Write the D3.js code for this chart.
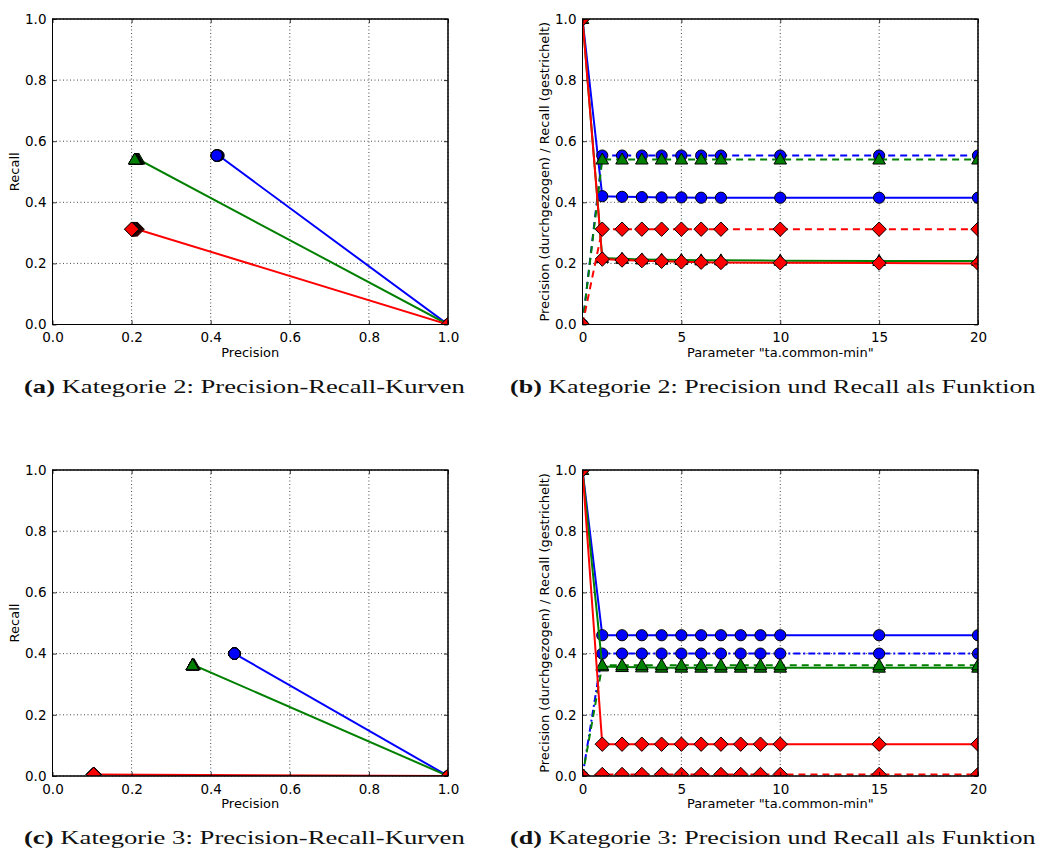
<!DOCTYPE html>
<html><head><meta charset="utf-8">
<script src="https://cdn.jsdelivr.net/npm/d3@7"></script>
<style>body{margin:0;background:#fff}svg{display:block}</style>
</head><body>
<svg id="c" width="1040" height="851"></svg>
<script>
// ---- Data ----
const paramB = [0,1,2,3,4,5,6,7,10,15,20];
const bBluePrec  = [1.0,0.420,0.418,0.417,0.416,0.416,0.415,0.415,0.415,0.415,0.415];
const bBlueRec   = [0.0,0.553,0.553,0.553,0.553,0.553,0.553,0.553,0.553,0.553,0.553];
const bGreenPrec = [1.0,0.218,0.215,0.213,0.212,0.211,0.210,0.210,0.209,0.208,0.208];
const bGreenRec  = [0.0,0.540,0.540,0.540,0.540,0.540,0.540,0.540,0.540,0.540,0.540];
const bRedPrec   = [1.0,0.214,0.211,0.209,0.207,0.205,0.204,0.203,0.202,0.201,0.200];
const bRedRec    = [0.0,0.312,0.312,0.312,0.312,0.312,0.312,0.312,0.312,0.312,0.312];

const paramD = [0,1,2,3,4,5,6,7,8,9,10,15,20];
const dBluePrec  = [1.0,0.460,0.460,0.460,0.460,0.460,0.460,0.460,0.460,0.460,0.460,0.460,0.460];
const dBlueRec   = [0.0,0.400,0.400,0.400,0.400,0.400,0.400,0.400,0.400,0.400,0.400,0.400,0.400];
const dGreenPrec = [1.0,0.358,0.356,0.355,0.354,0.354,0.354,0.354,0.354,0.354,0.354,0.354,0.354];
const dGreenRec  = [0.0,0.362,0.362,0.362,0.362,0.362,0.362,0.362,0.362,0.362,0.362,0.362,0.362];
const dRedPrec   = [1.0,0.104,0.104,0.104,0.104,0.104,0.104,0.104,0.104,0.104,0.104,0.104,0.104];
const dRedRec    = [0.0,0.005,0.005,0.005,0.005,0.005,0.005,0.005,0.005,0.005,0.005,0.005,0.005];

const unitTicks = [0,0.2,0.4,0.6,0.8,1.0];
const paramTicks = [0,5,10,15,20];
const colors = {blue:"#0000ff", green:"#008000", red:"#ff0000"};
const markers = {blue:"circle", green:"triangle", red:"diamond"};

const captions = [
  {tag:"(a)", text:" Kategorie 2: Precision-Recall-Kurven"},
  {tag:"(b)", text:" Kategorie 2: Precision und Recall als Funktion"},
  {tag:"(c)", text:" Kategorie 3: Precision-Recall-Kurven"},
  {tag:"(d)", text:" Kategorie 3: Precision und Recall als Funktion"}
];

const svg = d3.select("#c");
const tickFont = "'DejaVu Sans', sans-serif";

function markerPath(type){
  if(type==="circle") return d3.symbol().type(d3.symbolCircle).size(Math.PI*5.6*5.6)();
  if(type==="triangle") return "M0,-6.5L6.3,4.5L-6.3,4.5Z";
  return "M0,-7.2L7.2,0L0,7.2L-7.2,0Z";
}

let clipId = 0;
function makeAxes(box, xDomain, xTicks, xFmt, xLabel, yLabel){
  const x = d3.scaleLinear().domain(xDomain).range([box.x0, box.x1]);
  const y = d3.scaleLinear().domain([0,1]).range([box.y1, box.y0]);
  const g = svg.append("g");
  const id = "clip"+(clipId++);
  svg.append("clipPath").attr("id", id).append("rect")
    .attr("x", box.x0).attr("y", box.y0).attr("width", box.x1-box.x0).attr("height", box.y1-box.y0);
  // grid
  const grid = g.append("g").attr("stroke","#333").attr("stroke-width",0.9).attr("stroke-dasharray","1,2.5");
  xTicks.forEach(t=>grid.append("line").attr("x1",x(t)).attr("x2",x(t)).attr("y1",box.y0).attr("y2",box.y1));
  unitTicks.forEach(t=>grid.append("line").attr("y1",y(t)).attr("y2",y(t)).attr("x1",box.x0).attr("x2",box.x1));
  const plot = g.append("g").attr("clip-path", `url(#${id})`);
  // axes via d3 axis (ticks inward)
  const ax = g.append("g").attr("transform",`translate(0,${box.y1})`)
    .call(d3.axisBottom(x).tickValues(xTicks).tickFormat(xFmt).tickSizeInner(-4).tickSizeOuter(0).tickPadding(8));
  const ay = g.append("g").attr("transform",`translate(${box.x0},0)`)
    .call(d3.axisLeft(y).tickValues(unitTicks).tickFormat(d3.format(".1f")).tickSizeInner(-4).tickSizeOuter(0).tickPadding(6));
  const axT = g.append("g").attr("transform",`translate(0,${box.y0})`)
    .call(d3.axisTop(x).tickValues(xTicks).tickFormat("").tickSizeInner(-4).tickSizeOuter(0));
  const ayR = g.append("g").attr("transform",`translate(${box.x1},0)`)
    .call(d3.axisRight(y).tickValues(unitTicks).tickFormat("").tickSizeInner(-4).tickSizeOuter(0));
  [ax,ay,axT,ayR].forEach(a=>{
    a.select(".domain").remove();
    a.selectAll("line").attr("stroke","#000").attr("stroke-width",0.8);
    a.selectAll("text").attr("font-family",tickFont).attr("font-size",13.5).attr("fill","#000");
  });
  ax.selectAll("text").attr("dy","0.71em");
  // frame
  g.append("rect").attr("x",box.x0).attr("y",box.y0).attr("width",box.x1-box.x0).attr("height",box.y1-box.y0)
    .attr("fill","none").attr("stroke","#000").attr("stroke-width",1);
  g.append("text").attr("x",(box.x0+box.x1)/2).attr("y",box.y1+32).attr("text-anchor","middle")
    .attr("font-family",tickFont).attr("font-size",13).text(xLabel);
  g.append("text").attr("transform",`translate(${box.x0-34},${(box.y0+box.y1)/2}) rotate(-90)`)
    .attr("text-anchor","middle").attr("font-family",tickFont).attr("font-size",13).text(yLabel);
  return {x,y,plot,g};
}

function drawSeries(A, xs, ys, color, marker, dash){
  const pts = xs.map((v,i)=>[v, ys[i]]);
  A.plot.append("path").attr("d", d3.line().x(d=>A.x(d[0])).y(d=>A.y(d[1]))(pts))
    .attr("fill","none").attr("stroke",color).attr("stroke-width",2).attr("stroke-dasharray",dash||null);
  A.plot.selectAll(null).data(pts).enter().append("path")
    .attr("d", markerPath(marker))
    .attr("transform", d=>`translate(${A.x(d[0])},${A.y(d[1])})`)
    .attr("fill",color).attr("stroke","#000").attr("stroke-width",1);
}

function borderOnTop(A, box){
  A.g.append("rect").attr("x",box.x0).attr("y",box.y0).attr("width",box.x1-box.x0).attr("height",box.y1-box.y0)
    .attr("fill","none").attr("stroke","#000").attr("stroke-width",1);
}

const f1 = d3.format(".1f");
const boxA = {x0:52.5, x1:448, y0:19, y1:324.5};
const boxB = {x0:582.5, x1:978, y0:19, y1:324.5};
const boxC = {x0:52.5, x1:448, y0:470, y1:776};
const boxD = {x0:582.5, x1:978, y0:470, y1:776};

const ylabFn = "Precision (durchgezogen) / Recall (gestrichelt)";
const xlabFn = 'Parameter "ta.common-min"';

function prPanel(box, series){
  const A = makeAxes(box,[0,1],unitTicks,f1,"Precision","Recall");
  series.forEach(s=>drawSeries(A, s.prec, s.rec, colors[s.c], markers[s.c]));
  borderOnTop(A, box);
}
function fnPanel(box, params, series){
  const A = makeAxes(box,[0,20],paramTicks,d3.format("d"),xlabFn,ylabFn);
  series.forEach(s=>{
    drawSeries(A, params, s.prec, colors[s.c], markers[s.c]);
    drawSeries(A, params, s.rec, colors[s.c], markers[s.c], s.recDash||"7,5");
  });
  borderOnTop(A, box);
}

const seriesB = [
  {c:"blue", prec:bBluePrec, rec:bBlueRec},
  {c:"green", prec:bGreenPrec, rec:bGreenRec},
  {c:"red", prec:bRedPrec, rec:bRedRec}
];
const seriesD = [
  {c:"blue", prec:dBluePrec, rec:dBlueRec, recDash:"7,3,2,3"},
  {c:"green", prec:dGreenPrec, rec:dGreenRec},
  {c:"red", prec:dRedPrec, rec:dRedRec}
];

prPanel(boxA, seriesB);
fnPanel(boxB, paramB, seriesB);
prPanel(boxC, seriesD);
fnPanel(boxD, paramD, seriesD);

// captions
const capPos = [
  {x0:24, x1:465, y:393},
  {x0:510, x1:1036, y:393},
  {x0:24, x1:465, y:844},
  {x0:510, x1:1036, y:844}
];
captions.forEach((c,i)=>{
  const p = capPos[i];
  const t = svg.append("text").attr("x",p.x0).attr("y",p.y)
    .attr("font-family","'Liberation Serif','DejaVu Serif',serif").attr("font-size",19).attr("fill","#111");
  t.append("tspan").attr("font-weight","bold").text(c.tag);
  t.append("tspan").text(c.text);
  const w = t.node().getComputedTextLength();
  const s = (p.x1-p.x0)/w;
  t.attr("transform",`translate(${p.x0},0) scale(${s},1) translate(${-p.x0},0)`);
});
</script>
</body></html>
